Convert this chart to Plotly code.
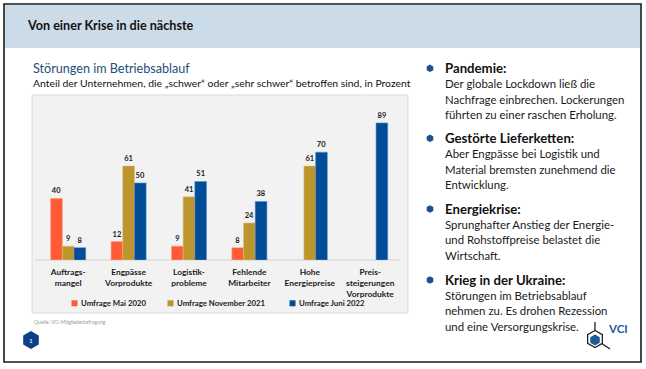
import math
import plotly.graph_objects as go

W, H = 646, 369
FONT = "Lato"

# ---------------- data ----------------
categories = ["Auftrags-<br>mangel", "Engpässe<br>Vorprodukte", "Logistik-<br>probleme",
              "Fehlende<br>Mitarbeiter", "Hohe<br>Energiepreise",
              "Preis-<br>steigerungen<br>Vorprodukte"]
series_names = ["Umfrage Mai 2020", "Umfrage November 2021", "Umfrage Juni 2022"]
mai_2020 = [40, 12, 9, 8, None, None]
nov_2021 = [9, 61, 41, 24, 61, None]
juni_2022 = [8, 50, 51, 38, 70, 89]
series_values = [mai_2020, nov_2021, juni_2022]
colors = ["#FF5B36", "#BC952C", "#004C97"]
edge_colors = ["#FF9C85", "#D9BE78", "#5C8FC4"]

title = "Von einer Krise in die nächste"
chart_title = "Störungen im Betriebsablauf"
chart_subtitle = "Anteil der Unternehmen, die „schwer“ oder „sehr schwer“ betroffen sind, in Prozent"
source = "Quelle: VCI-Mitgliederbefragung"

sections = [
    ("Pandemie:", ["Der globale Lockdown ließ die",
                   "Nachfrage einbrechen. Lockerungen",
                   "führten zu einer raschen Erholung."]),
    ("Gestörte Lieferketten:", ["Aber Engpässe bei Logistik und",
                                "Material bremsten zunehmend die",
                                "Entwicklung."]),
    ("Energiekrise:", ["Sprunghafter Anstieg der Energie-",
                       "und Rohstoffpreise belastet die",
                       "Wirtschaft."]),
    ("Krieg in der Ukraine:", ["Störungen im Betriebsablauf",
                               "nehmen zu. Es drohen Rezession",
                               "und eine Versorgungskrise."]),
]

# ---------------- helpers ----------------
def px(x):
    return x / W


def py(y):
    return 1 - y / H


def hex_path(cx, cy, r):
    pts = []
    for k in range(6):
        a = math.radians(90 + 60 * k)
        pts.append((px(cx + r * math.cos(a)), py(cy - r * math.sin(a))))
    return "M" + " L".join(f"{x:.5f},{y:.5f}" for x, y in pts) + " Z"


fig = go.Figure()
for name, vals, c, ec in zip(series_names, series_values, colors, edge_colors):
    fig.add_trace(go.Bar(
        x=categories, y=vals, name=name,
        marker=dict(color=c, line=dict(color=ec, width=0.6)),
        texttemplate="%{y}", textposition="outside",
        textfont=dict(family=FONT, size=7.5, color="#1a1a1a", weight="bold"),
        cliponaxis=False, showlegend=False,
    ))

shapes = []
# outer slide frame
shapes.append(dict(type="rect", xref="paper", yref="paper", x0=px(4), x1=px(641), y0=py(362), y1=py(4),
                   line=dict(color="#1a1a1a", width=1.6), fillcolor="white", layer="below"))
# header band
shapes.append(dict(type="rect", xref="paper", yref="paper", x0=px(5), x1=px(640), y0=py(48), y1=py(5),
                   line=dict(width=0), fillcolor="#CCDBE8", layer="below"))
# gray chart panel
shapes.append(dict(type="rect", xref="paper", yref="paper", x0=px(32), x1=px(408), y0=py(313), y1=py(95),
                   line=dict(color="#D9D9D9", width=1), fillcolor="#F2F2F2", layer="below"))
# baseline
shapes.append(dict(type="line", xref="paper", yref="paper", x0=px(35), x1=px(400), y0=py(260), y1=py(260),
                   line=dict(color="#D2D2D2", width=1), layer="below"))

annotations = []
annotations.append(dict(text=f"<b>{title}</b>", x=px(25), y=py(25), xref="paper", yref="paper",
                        xanchor="left", yanchor="middle", showarrow=False,
                        font=dict(family=FONT, size=12.6, color="#111111")))
annotations.append(dict(text=chart_title, x=px(31), y=py(68), xref="paper", yref="paper",
                        xanchor="left", yanchor="middle", showarrow=False,
                        font=dict(family=FONT, size=12.6, color="#1F4E79")))
annotations.append(dict(text=chart_subtitle, x=px(31), y=py(83), xref="paper", yref="paper",
                        xanchor="left", yanchor="middle", showarrow=False,
                        font=dict(family=FONT, size=10.4, color="#111111")))
annotations.append(dict(text=source, x=px(32), y=py(322), xref="paper", yref="paper",
                        xanchor="left", yanchor="middle", showarrow=False,
                        font=dict(family=FONT, size=5, color="#9A9A9A")))

# legend (manual)
legend_x = [71.5, 167.5, 289.5]
for name, c, lx in zip(series_names, colors, legend_x):
    shapes.append(dict(type="rect", xref="paper", yref="paper", x0=px(lx), x1=px(lx + 6),
                       y0=py(306.3), y1=py(300.3), fillcolor=c, line=dict(width=0)))
    annotations.append(dict(text=f"<b>{name}</b>", x=px(lx + 7.5), y=py(303.3), xref="paper", yref="paper",
                            xanchor="left", yanchor="middle", showarrow=False,
                            font=dict(family=FONT, size=7.8, color="#1a1a1a")))

# right-hand text
heading_y = [68.3, 138.3, 209, 280]
for (head, lines), hy in zip(sections, heading_y):
    shapes.append(dict(type="path", xref="paper", yref="paper", path=hex_path(430, hy, 3.8),
                       fillcolor="#1F4E8C", line=dict(width=0)))
    annotations.append(dict(text=f"<b>{head}</b>", x=px(442.5), y=py(hy), xref="paper", yref="paper",
                            xanchor="left", yanchor="middle", showarrow=False,
                            font=dict(family=FONT, size=13.2, color="#111111")))
    for i, ln in enumerate(lines):
        annotations.append(dict(text=ln, x=px(442.5), y=py(hy + 15.2 + 15.7 * i), xref="paper", yref="paper",
                                xanchor="left", yanchor="middle", showarrow=False,
                                font=dict(family=FONT, size=11.4, color="#1a1a1a")))

# page number hexagon
shapes.append(dict(type="path", xref="paper", yref="paper", path=hex_path(31, 340, 9),
                   fillcolor="#0B3F86", line=dict(width=0)))
annotations.append(dict(text="1", x=px(31), y=py(340.5), xref="paper", yref="paper",
                        xanchor="center", yanchor="middle", showarrow=False,
                        font=dict(family=FONT, size=6.5, color="white")))

# VCI logo
shapes.append(dict(type="line", xref="paper", yref="paper", x0=px(595), x1=px(595), y0=py(322), y1=py(331),
                   line=dict(color="#222222", width=1.3)))
shapes.append(dict(type="line", xref="paper", yref="paper", x0=px(601), x1=px(610), y0=py(343), y1=py(349),
                   line=dict(color="#222222", width=1.3)))
shapes.append(dict(type="path", xref="paper", yref="paper", path=hex_path(595, 339, 8.5),
                   fillcolor="white", line=dict(color="#222222", width=1.3)))
shapes.append(dict(type="path", xref="paper", yref="paper", path=hex_path(595, 340, 5.5),
                   fillcolor="#1F5A9A", line=dict(width=0)))
annotations.append(dict(text="<b>VCI</b>", x=px(618), y=py(328), xref="paper", yref="paper",
                        xanchor="center", yanchor="middle", showarrow=False,
                        font=dict(family=FONT, size=11.5, color="#1F5A9A")))

fig.update_layout(
    width=W, height=H,
    margin=dict(l=0, r=0, t=0, b=0),
    paper_bgcolor="white", plot_bgcolor="rgba(0,0,0,0)",
    barmode="group", bargap=0.42, bargroupgap=0,
    shapes=shapes, annotations=annotations,
    xaxis=dict(domain=[px(38), px(400.4)], type="category", showgrid=False, showline=False,
               zeroline=False, ticks="", ticklabelstandoff=6,
               tickfont=dict(family=FONT, size=8.4, color="#1a1a1a", weight="bold")),
    yaxis=dict(domain=[py(260), py(106)], range=[0, 100], visible=False, showgrid=False),
    font=dict(family=FONT),
)

fig.write_html("out.html", config={"displayModeBar": False},
               post_script="document.body.style.margin='0';document.body.style.padding='0';document.body.style.overflow='hidden';")
